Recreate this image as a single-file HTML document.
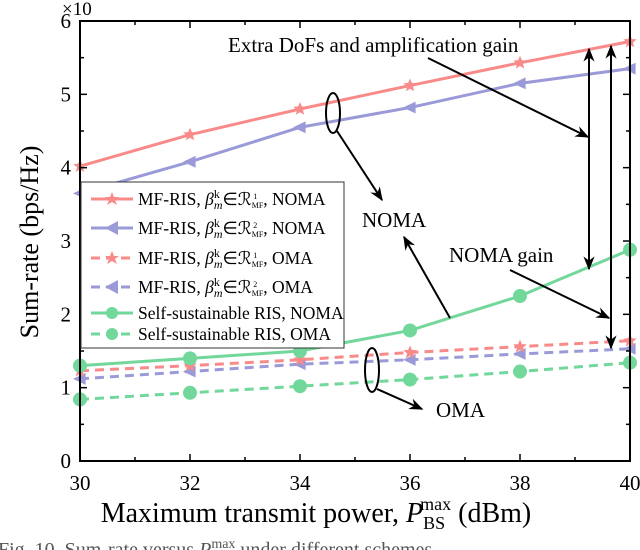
<!DOCTYPE html>
<html><head><meta charset="utf-8"><style>
body{margin:0;background:#fff;width:640px;height:550px;overflow:hidden}
svg{font-family:"Liberation Serif",serif;position:absolute;left:0;top:0}
</style></head><body>
<svg id="c" width="640" height="550">
<g id="plot"></g>
</svg>
<script>
const xCats=[30,32,34,36,38,40];
const yTicks=[0,1,2,3,4,5,6];
const redNoma=[4.02,4.45,4.80,5.12,5.43,5.72];
const blueNoma=[3.65,4.08,4.55,4.82,5.15,5.35];
const redOma=[1.23,1.30,1.38,1.48,1.56,1.64];
const blueOma=[1.12,1.22,1.32,1.38,1.46,1.53];
const greenNoma=[1.30,1.40,1.50,1.78,2.25,2.88];
const greenOma=[0.84,0.93,1.02,1.11,1.22,1.34];
const L=80,R=630,T=21,B=461;
const X=v=>L+(v-30)/10*(R-L);
const Y=v=>B-v/6*(B-T);
const NS="http://www.w3.org/2000/svg";
const g=document.getElementById('plot');
function el(tag,at,par){const e=document.createElementNS(NS,tag);for(const k in at)e.setAttribute(k,at[k]);(par||g).appendChild(e);return e;}
const RED="#f98a8a",BLUE="#9a9ad8",GREEN="#72d79a";
function star(cx,cy,r,col,par){let p="";for(let i=0;i<10;i++){const a=-Math.PI/2+i*Math.PI/5,rr=i%2?r*0.45:r;p+=(i?"L":"M")+(cx+rr*Math.cos(a)).toFixed(1)+","+(cy+rr*Math.sin(a)).toFixed(1);}return el('path',{d:p+"Z",fill:col},par);}
function tri(cx,cy,r,col,par){return el('path',{d:`M${cx-r},${cy} L${cx+r*0.8},${cy-r*0.85} L${cx+r*0.8},${cy+r*0.85}Z`,fill:col},par);}
function dot(cx,cy,r,col,par){return el('circle',{cx,cy,r,fill:col},par);}
function series(vals,col,dash,mk,name){
  const sg=el('g',{});
  
  
  el('polyline',{points:vals.map((v,i)=>X(xCats[i])+","+Y(v)).join(" "),fill:"none",stroke:col,"stroke-width":3,"stroke-dasharray":dash?"9,6":"none"},sg);
  vals.forEach((v,i)=>{const m=mk(X(xCats[i]),Y(v),7,col,sg);});
}
series(greenOma,GREEN,true,dot,'series-self-oma');
series(blueOma,BLUE,true,tri,'series-mf-r2-oma');
series(redOma,RED,true,star,'series-mf-r1-oma');
series(greenNoma,GREEN,false,dot,'series-self-noma');
series(blueNoma,BLUE,false,tri,'series-mf-r2-noma');
series(redNoma,RED,false,star,'series-mf-r1-noma');
const ax=el('rect',{x:L,y:T,width:R-L,height:B-T,fill:"none",stroke:"#000","stroke-width":2});

for(let v=30;v<=40;v++){el('line',{x1:X(v),x2:X(v),y1:B,y2:B-(v%2?4:7),stroke:"#000","stroke-width":1.5});el('line',{x1:X(v),x2:X(v),y1:T,y2:T+(v%2?4:7),stroke:"#000","stroke-width":1.5});}
for(let v=0;v<=6;v+=0.5){el('line',{x1:L,x2:L+(v%1?4:7),y1:Y(v),y2:Y(v),stroke:"#000","stroke-width":1.5});el('line',{x1:R,x2:R-(v%1?4:7),y1:Y(v),y2:Y(v),stroke:"#000","stroke-width":1.5});}
xCats.forEach(v=>{const t=el('text',{x:X(v),y:B+29,"text-anchor":"middle","font-size":21});t.textContent=v;});
yTicks.forEach(v=>{const t=el('text',{x:L-9,y:Y(v)+7,"text-anchor":"end","font-size":21});t.textContent=v;});
</script>
<svg width="640" height="550">
<defs><marker id="ah2" viewBox="0 0 10 10" refX="9" refY="5" markerWidth="7" markerHeight="7" orient="auto-start-reverse"><path d="M0,1 L10,5 L0,9 L3,5 Z" fill="#000"/></marker></defs>
<text x="62" y="15" font-size="19">×10</text>
<text x="316" y="522" text-anchor="middle" font-size="28">Maximum transmit power, <tspan font-style="italic">P</tspan><tspan font-size="18" dy="7">BS</tspan><tspan font-size="18" dx="-25" dy="-19">max</tspan><tspan dy="12"> (dBm)</tspan></text>
<text transform="translate(38,242) rotate(-90)" text-anchor="middle" font-size="26">Sum-rate (bps/Hz)</text>
<text x="-2" y="556" font-size="20" fill="#555">Fig. 10.  Sum-rate versus <tspan font-style="italic">P</tspan><tspan font-size="14" dy="-8">max</tspan><tspan dy="8"> under different schemes.</tspan></text>
<g>
<rect x="81" y="182" width="263" height="166" fill="#fff" stroke="#333" stroke-width="1"/>
<g font-size="17.5">
<line x1="91" y1="199" x2="133" y2="199" stroke="#f98a8a" stroke-width="3"/><text x="138" y="205">MF-RIS, <tspan font-style="italic">β</tspan><tspan font-size="12" dy="-7">k</tspan><tspan font-size="12" dx="-6" dy="11" font-style="italic">m</tspan><tspan dy="-4">∈ℛ</tspan><tspan font-size="8" dy="3">MF</tspan><tspan font-size="8" dx="-10" dy="-9">1</tspan><tspan dx="6" dy="6">, NOMA</tspan></text>
<line x1="91" y1="228" x2="133" y2="228" stroke="#9a9ad8" stroke-width="3"/><text x="138" y="234">MF-RIS, <tspan font-style="italic">β</tspan><tspan font-size="12" dy="-7">k</tspan><tspan font-size="12" dx="-6" dy="11" font-style="italic">m</tspan><tspan dy="-4">∈ℛ</tspan><tspan font-size="8" dy="3">MF</tspan><tspan font-size="8" dx="-10" dy="-9">2</tspan><tspan dx="6" dy="6">, NOMA</tspan></text>
<line x1="91" y1="258" x2="133" y2="258" stroke="#f98a8a" stroke-width="3" stroke-dasharray="9,6"/><text x="138" y="264">MF-RIS, <tspan font-style="italic">β</tspan><tspan font-size="12" dy="-7">k</tspan><tspan font-size="12" dx="-6" dy="11" font-style="italic">m</tspan><tspan dy="-4">∈ℛ</tspan><tspan font-size="8" dy="3">MF</tspan><tspan font-size="8" dx="-10" dy="-9">1</tspan><tspan dx="6" dy="6">, OMA</tspan></text>
<line x1="91" y1="287" x2="133" y2="287" stroke="#9a9ad8" stroke-width="3" stroke-dasharray="9,6"/><text x="138" y="293">MF-RIS, <tspan font-style="italic">β</tspan><tspan font-size="12" dy="-7">k</tspan><tspan font-size="12" dx="-6" dy="11" font-style="italic">m</tspan><tspan dy="-4">∈ℛ</tspan><tspan font-size="8" dy="3">MF</tspan><tspan font-size="8" dx="-10" dy="-9">2</tspan><tspan dx="6" dy="6">, OMA</tspan></text>
<line x1="91" y1="313" x2="133" y2="313" stroke="#72d79a" stroke-width="3"/><circle cx="112" cy="313" r="6" fill="#72d79a"/><text x="138" y="319">Self-sustainable RIS, NOMA</text>
<line x1="91" y1="334" x2="133" y2="334" stroke="#72d79a" stroke-width="3" stroke-dasharray="9,6"/><circle cx="112" cy="334" r="6" fill="#72d79a"/><text x="138" y="340">Self-sustainable RIS, OMA</text>
</g>
<path d="M112,192 l2,5 5,0 -4,3 2,5 -5,-3 -5,3 2,-5 -4,-3 5,0z" fill="#f98a8a"/>
<path d="M105,228 l13,-7 0,14z" fill="#9a9ad8"/>
<path d="M112,251 l2,5 5,0 -4,3 2,5 -5,-3 -5,3 2,-5 -4,-3 5,0z" fill="#f98a8a"/>
<path d="M105,287 l13,-7 0,14z" fill="#9a9ad8"/>
</g>
<g stroke="#000" stroke-width="2" fill="none">
<ellipse cx="333" cy="113" rx="7" ry="20"/>
<line x1="337" y1="131" x2="382" y2="200" marker-end="url(#ah2)"/>
<line x1="450" y1="318" x2="404" y2="237" marker-end="url(#ah2)"/>
<ellipse cx="372" cy="370" rx="7" ry="22"/>
<line x1="377" y1="389" x2="422" y2="409" marker-end="url(#ah2)"/>
<line x1="428" y1="58" x2="588" y2="137" marker-end="url(#ah2)"/>
<line x1="589" y1="49" x2="589" y2="269" marker-start="url(#ah2)" marker-end="url(#ah2)"/>
<line x1="611" y1="46" x2="611" y2="348" marker-start="url(#ah2)" marker-end="url(#ah2)"/>
<line x1="510" y1="270" x2="609" y2="318" marker-end="url(#ah2)"/>
</g>
<g font-size="21">
<text x="228" y="52">Extra DoFs and amplification gain</text>
<text x="362" y="227">NOMA</text>
<text x="449" y="262">NOMA gain</text>
<text x="436" y="417">OMA</text>
</g>
</svg>
</body></html>
